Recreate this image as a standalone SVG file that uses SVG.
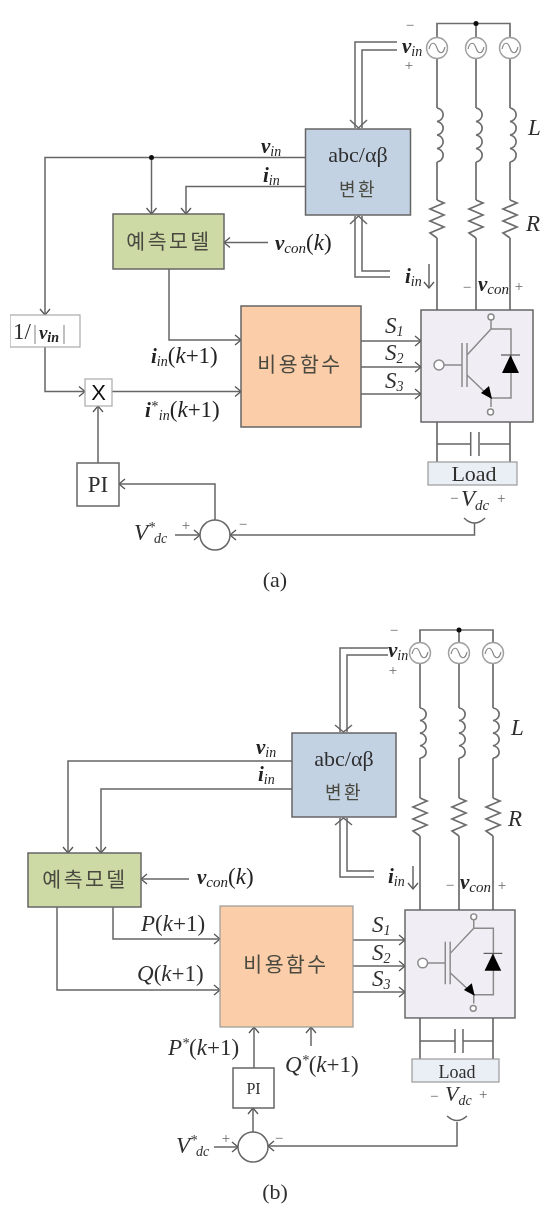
<svg xmlns="http://www.w3.org/2000/svg" xmlns:xlink="http://www.w3.org/1999/xlink" width="544" height="1210" viewBox="0 0 544 1210">
<style>
text{font-family:"Liberation Serif","Times New Roman",serif;fill:#2f2f2f}
.ko{font-family:"Noto Sans CJK KR","Noto Sans",sans-serif;font-size:20.500px;letter-spacing:2.500px;text-anchor:middle;fill:#4a4a40}
.m{font-size:23px;font-style:normal;font-weight:normal}.mi{font-size:23px;font-style:italic;font-weight:normal}
.b{font-size:21px;font-style:italic;font-weight:bold;fill:#222}
.s{font-size:14px;font-style:italic;font-weight:normal}
.sg{font-size:15px;fill:#666}
.c{fill:none;stroke:#666;stroke-width:1.5}
.t{fill:none;stroke:#6d6d6d;stroke-width:1.7}
.a{marker-end:url(#ah)}
.box{stroke:#666;stroke-width:1.5}
.sv{fill:#fff;stroke:#a0a0a0;stroke-width:1.4}
</style>
<defs>
<filter id="soft" x="0" y="0" width="100%" height="100%"><feGaussianBlur stdDeviation="0.5"/></filter>
<marker id="ah" markerUnits="userSpaceOnUse" markerWidth="10" markerHeight="12" refX="7" refY="6" orient="auto"><path d="M1,1 L7,6 L1,11" fill="none" stroke="#555" stroke-width="1.3"/></marker>
<path id="ind" class="t" d="M0,0 a7,6.800 0 0 1 0,13.500 a7,6.800 0 0 1 0,13.500 a7,6.800 0 0 1 0,13.500 a7,6.800 0 0 1 0,13.500"/>
<path id="res" class="t" d="M0,0 L7,3 L-7,9 L7,15 L-7,21 L7,27 L-7,33 L0,38"/>
<g id="src"><circle r="10.500" class="sv"/><path d="M-8,1 C-6,-7 -2,-6 0,0 S6,7 8,-1" fill="none" stroke="#888" stroke-width="1.200"/></g>
<g id="igbt">
<rect width="112" height="112" fill="#f0eef4" class="box"/>
<g fill="none" stroke="#8a8a8a" stroke-width="1.500">
<circle cx="18" cy="55" r="5" fill="#fff"/><path d="M23,55 H41 M41,33 V77 M46,33 V77 M46,45 L70,19 M70,10 V19 H90 V88 H70 V97 M46,65 L70,88"/>
<circle cx="70" cy="7" r="3" fill="#fff"/><circle cx="69.500" cy="102" r="3" fill="#fff"/></g>
<path d="M81,63 H98 L89.500,45 Z" fill="#000"/><path d="M80,45 H99" stroke="#555" stroke-width="1.200"/>
<path d="M71,89 L60,83 L68,76 Z" fill="#000"/>
</g>
</defs>
<rect width="544" height="1210" fill="#fff"/>
<g filter="url(#soft)">
<g id="connectors">
<path class="t" d="M437,37 V23.500 H510 V37 M476,23.500 V37 M437,59 V108 M476,59 V108 M510,59 V108 M437,162 V200 M476,162 V200 M510,162 V200 M437,238 V310 M476,238 V310 M510,238 V310 M437,422 V462 M510,422 V462"/>
<path class="c" d="M437,444 H470 M480,444 H510"/>
<path class="c" d="M470.700,432 V456 M479,432 V456"/>
<use xlink:href="#ind" x="437" y="108"/><use xlink:href="#ind" x="476" y="108"/><use xlink:href="#ind" x="510" y="108"/>
<use xlink:href="#res" x="437" y="200"/><use xlink:href="#res" x="476" y="200"/><use xlink:href="#res" x="510" y="200"/>
<path class="c" d="M397,42 H355 V128 M397,50 H362 V128"/>
<path class="c" d="M350,120 L358.500,128 L367,120"/>
<path class="c" d="M390,277 H355 V216 M390,271 H362 V216"/>
<path class="c" d="M350,224 L358.500,216 L367,224"/>
<path class="c a" d="M305,157.500 H45 V315"/>
<path class="c a" d="M151.500,157.500 V214"/>
<path class="c a" d="M305,186.500 H186 V214"/>
<path class="c a" d="M268,242.500 H224"/>
<path class="c a" d="M169,269 V340 H241"/>
<path class="c a" d="M45,347 V391.500 H85"/>
<path class="c a" d="M112,391.500 H241"/>
<path class="c a" d="M98,463 V406"/>
<path class="c a" d="M215,520 V484 H119"/>
<path class="c a" d="M175,535 H200"/>
<path class="c a" d="M474.500,523 V535 H230"/>
<path class="c" d="M464,518 Q474.500,528 485,518"/>
<path class="c a" d="M361,341 H421"/><path class="c a" d="M361,367 H421"/><path class="c a" d="M361,394 H421"/>
<path class="c a" d="M429,264 V288"/>
<path class="t" d="M420,642 V630 H493 V642 M459,630 V642 M420,664 V708 M459,664 V708 M493,664 V708 M420,758 V798 M459,758 V798 M493,758 V798 M420,836 V910 M459,836 V910 M493,836 V910 M420,1018 V1059 M493,1018 V1059"/>
<path class="c" d="M420,1041 H455 M463,1041 H493"/>
<path class="c" d="M455,1029 V1053 M463,1029 V1053"/>
<use xlink:href="#ind" transform="translate(420,708) scale(1,0.93)"/><use xlink:href="#ind" transform="translate(459,708) scale(1,0.93)"/><use xlink:href="#ind" transform="translate(493,708) scale(1,0.93)"/>
<use xlink:href="#res" x="420" y="798"/><use xlink:href="#res" x="459" y="798"/><use xlink:href="#res" x="493" y="798"/>
<path class="c" d="M388,648 H340 V732 M388,655 H347 V732"/>
<path class="c" d="M335,725 L343.500,732 L352,725"/>
<path class="c" d="M374,877 H340 V818 M374,871 H347 V818"/>
<path class="c" d="M335,825 L343.500,818 L352,825"/>
<path class="c a" d="M292,761 H68 V853"/>
<path class="c a" d="M292,789 H101 V853"/>
<path class="c a" d="M189,879 H141"/>
<path class="c a" d="M113,907 V939 H220"/>
<path class="c a" d="M57,907 V990 H220"/>
<path class="c a" d="M254,1068 V1027"/>
<path class="c a" d="M311,1046 V1027"/>
<path class="c a" d="M253,1132 V1108"/>
<path class="c a" d="M214,1147 H238"/>
<path class="c a" d="M457,1122 V1146 H268"/>
<path class="c" d="M447,1116 Q457,1125 467,1116"/>
<path class="c a" d="M353,940 H405"/><path class="c a" d="M353,966 H405"/><path class="c a" d="M353,992 H405"/>
<path class="c a" d="M413,866 V889"/>
</g>

<g id="a-sources"><use xlink:href="#src" x="437" y="48"/><use xlink:href="#src" x="476" y="48"/><use xlink:href="#src" x="510" y="48"/><circle cx="476" cy="23.500" r="2.500" fill="#111"/></g>
<circle id="a-junction" cx="151.500" cy="157.500" r="2.500" fill="#111"/>
<g id="a-abc"><rect x="305.500" y="129" width="105" height="86" fill="#c3d2e3" class="box"/><text x="358" y="162" class="m" text-anchor="middle" style="font-size:22px">abc/αβ</text><text x="358" y="196" class="ko" style="font-size:18px">변환</text></g>
<g id="a-predict"><rect x="113" y="214" width="111" height="55" fill="#cddaa6" class="box"/><text x="169" y="249" class="ko">예측모델</text></g>
<g id="a-cost"><rect x="241" y="306" width="120" height="121" fill="#fbcda8" class="box"/><text x="300" y="372" class="ko">비용함수</text></g>
<g id="a-inv"><use xlink:href="#igbt" transform="translate(421,310)"/></g>
<g id="a-load"><rect x="428" y="462" width="89" height="23" fill="#eaeff6" stroke="#999" stroke-width="1.200"/><text x="474" y="481" text-anchor="middle" style="font-size:22px">Load</text></g>
<g id="a-inv-abs"><rect x="10" y="315" width="70" height="32" fill="#fff" stroke="#aaa" stroke-width="1.200"/><text x="13" y="339" class="m">1/<tspan dx="2" fill="#888" style="font-size:20px">|</tspan><tspan dx="2" class="b" style="font-size:19px">v<tspan class="s" dy="3" style="font-size:14px;font-weight:bold">in</tspan></tspan><tspan dy="-3" dx="3" fill="#888" style="font-size:20px">|</tspan></text></g>
<g id="a-x"><rect x="85" y="379" width="27" height="27" fill="#fff" stroke="#aaa" stroke-width="1.200"/><text x="98.500" y="400" text-anchor="middle" style="font-family:'Liberation Sans',sans-serif;font-size:22px;fill:#111">X</text></g>
<g id="a-pi"><rect x="77" y="463" width="42" height="43" fill="#fff" class="box"/><text x="98" y="492" text-anchor="middle" style="font-size:23px">PI</text></g>
<circle id="a-sum" cx="215" cy="535" r="15" fill="#fff" stroke="#666" stroke-width="1.500"/>

<g id="b-sources"><use xlink:href="#src" x="420" y="653"/><use xlink:href="#src" x="459" y="653"/><use xlink:href="#src" x="493" y="653"/><circle cx="459" cy="630" r="2.500" fill="#111"/></g>
<g id="b-abc"><rect x="292" y="733" width="104" height="84" fill="#c3d2e3" class="box"/><text x="344" y="766" class="m" text-anchor="middle" style="font-size:22px">abc/αβ</text><text x="344" y="799" class="ko" style="font-size:18px">변환</text></g>
<g id="b-predict"><rect x="28" y="853" width="113" height="54" fill="#cddaa6" class="box"/><text x="85" y="887" class="ko">예측모델</text></g>
<g id="b-cost"><rect x="220" y="906" width="133" height="121" fill="#fbcda8" stroke="#999" stroke-width="1.200"/><text x="286" y="972" class="ko">비용함수</text></g>
<g id="b-inv"><use xlink:href="#igbt" transform="translate(405,910) scale(0.982,0.964)"/></g>
<g id="b-load"><rect x="412" y="1059" width="87" height="23" fill="#eaeff6" stroke="#999" stroke-width="1.200"/><text x="457" y="1078" text-anchor="middle" style="font-size:18px">Load</text></g>
<g id="b-pi"><rect x="233" y="1068" width="41" height="40" fill="#fff" class="box"/><text x="253.500" y="1094" text-anchor="middle" style="font-size:16px">PI</text></g>
<circle id="b-sum" cx="253" cy="1147" r="15" fill="#fff" stroke="#666" stroke-width="1.500"/>

<g id="labels">
<text x="402" y="53" class="b">v<tspan class="s" dy="3">in</tspan></text><text x="410" y="30" class="sg" text-anchor="middle">−</text><text x="409" y="70" class="sg" text-anchor="middle">+</text>
<text x="528" y="135" class="mi">L</text><text x="526" y="231" class="mi">R</text>
<text x="405" y="283" class="b">i<tspan class="s" dy="3">in</tspan></text>
<text x="467" y="292" class="sg" text-anchor="middle">−</text><text x="478" y="291" class="b">v<tspan class="s" dy="3" style="font-size:15px">con</tspan></text><text x="519" y="291" class="sg" text-anchor="middle">+</text>
<text x="261" y="153" class="b">v<tspan class="s" dy="3">in</tspan></text>
<text x="263" y="182" class="b">i<tspan class="s" dy="3">in</tspan></text>
<text x="275" y="250" class="b">v<tspan class="s" dy="3" style="font-size:15px">con</tspan><tspan class="m" dy="-3">(<tspan class="mi">k</tspan>)</tspan></text>
<text x="151" y="363" class="b">i<tspan class="s" dy="3">in</tspan><tspan class="m" dy="-3">(<tspan class="mi">k</tspan>+1)</tspan></text>
<text x="145" y="417" class="b">i<tspan class="s" dy="-6">*</tspan><tspan class="s" dy="9" dx="1">in</tspan><tspan class="m" dy="-3">(<tspan class="mi">k</tspan>+1)</tspan></text>
<text x="385" y="333" class="mi">S<tspan class="s" dy="3">1</tspan></text><text x="385" y="360" class="mi">S<tspan class="s" dy="3">2</tspan></text><text x="385" y="388" class="mi">S<tspan class="s" dy="3">3</tspan></text>
<text x="450" y="503" class="sg">−</text><text x="461" y="506" class="mi">V<tspan class="s" dy="4" style="font-size:15px">dc</tspan></text><text x="497" y="503" class="sg">+</text>
<text x="134" y="540" class="mi">V<tspan class="s" dy="-8">*</tspan><tspan class="s" dy="11" dx="-1">dc</tspan></text>
<text x="186" y="530" class="sg" text-anchor="middle">+</text><text x="243" y="529" class="sg" text-anchor="middle">−</text>
<text x="275" y="587" text-anchor="middle" style="font-size:22px">(a)</text>

<text x="388" y="657" class="b">v<tspan class="s" dy="3">in</tspan></text><text x="394" y="635" class="sg" text-anchor="middle">−</text><text x="393" y="675" class="sg" text-anchor="middle">+</text>
<text x="511" y="735" class="mi">L</text><text x="508" y="826" class="mi">R</text>
<text x="388" y="883" class="b">i<tspan class="s" dy="3">in</tspan></text>
<text x="450" y="890" class="sg" text-anchor="middle">−</text><text x="460" y="889" class="b">v<tspan class="s" dy="3" style="font-size:15px">con</tspan></text><text x="502" y="890" class="sg" text-anchor="middle">+</text>
<text x="256" y="754" class="b">v<tspan class="s" dy="3">in</tspan></text>
<text x="258" y="781" class="b">i<tspan class="s" dy="3">in</tspan></text>
<text x="197" y="884" class="b">v<tspan class="s" dy="3" style="font-size:15px">con</tspan><tspan class="m" dy="-3">(<tspan class="mi">k</tspan>)</tspan></text>
<text x="141" y="931" class="mi">P<tspan font-style="normal">(</tspan>k<tspan font-style="normal">+1)</tspan></text>
<text x="137" y="981" class="mi">Q<tspan font-style="normal">(</tspan>k<tspan font-style="normal">+1)</tspan></text>
<text x="168" y="1055" class="mi">P<tspan class="s" dy="-7">*</tspan><tspan dy="7" font-style="normal">(</tspan>k<tspan font-style="normal">+1)</tspan></text>
<text x="285" y="1072" class="mi">Q<tspan class="s" dy="-7">*</tspan><tspan dy="7" font-style="normal">(</tspan>k<tspan font-style="normal">+1)</tspan></text>
<text x="372" y="932" class="mi">S<tspan class="s" dy="3">1</tspan></text><text x="372" y="960" class="mi">S<tspan class="s" dy="3">2</tspan></text><text x="372" y="986" class="mi">S<tspan class="s" dy="3">3</tspan></text>
<text x="430" y="1101" class="sg">−</text><text x="445" y="1101" class="mi" style="font-size:22px">V<tspan class="s" dy="4" style="font-size:14px">dc</tspan></text><text x="479" y="1099" class="sg">+</text>
<text x="176" y="1153" class="mi">V<tspan class="s" dy="-8">*</tspan><tspan class="s" dy="11" dx="-1">dc</tspan></text>
<text x="226" y="1143" class="sg" text-anchor="middle">+</text><text x="279" y="1143" class="sg" text-anchor="middle">−</text>
<text x="275" y="1199" text-anchor="middle" style="font-size:22px">(b)</text>
</g>
</g>
</svg>
